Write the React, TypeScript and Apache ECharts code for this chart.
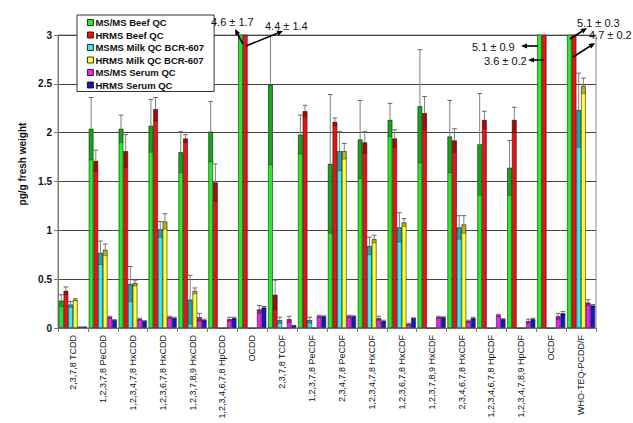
import React, { useEffect, useRef } from "react";
import * as echarts from "echarts";

const categories = [
  "2,3,7,8 TCDD",
  "1,2,3,7,8 PeCDD",
  "1,2,3,4,7,8 HxCDD",
  "1,2,3,6,7,8 HxCDD",
  "1,2,3,7,8,9 HxCDD",
  "1,2,3,4,6,7,8 HpCDD",
  "OCDD",
  "2,3,7,8 TCDF",
  "1,2,3,7,8 PeCDF",
  "2,3,4,7,8 PeCDF",
  "1,2,3,4,7,8 HxCDF",
  "1,2,3,6,7,8 HxCDF",
  "1,2,3,7,8,9 HxCDF",
  "2,3,4,6,7,8 HxCDF",
  "1,2,3,4,6,7,8 HpCDF",
  "1,2,3,4,7,8,9 HpCDF",
  "OCDF",
  "WHO-TEQ-PCDD/F",
];

const seriesNames = [
  "MS/MS Beef QC",
  "HRMS Beef QC",
  "MSMS Milk QC BCR-607",
  "HRMS Milk QC BCR-607",
  "MS/MS Serum QC",
  "HRMS Serum QC",
];

const beefMsms = [0.28, 2.04, 2.04, 2.07, 1.8, 2.01, 4.6, 2.49, 1.98, 1.68, 1.93, 2.13, 2.27, 1.96, 1.88, 1.64, 5.1, 5.1];
const beefMsmsErr = [0.06, 0.32, 0.14, 0.27, 0.21, 0.31, 1.7, 0.82, 0.2, 0.71, 0.4, 0.17, 0.58, 0.37, 0.52, 0.28, 0.9, 0.3];

const beefHrms = [0.38, 1.71, 1.81, 2.24, 1.94, 1.49, 4.4, 0.34, 2.22, 2.11, 1.9, 1.94, 2.2, 1.92, 2.13, 2.13, 3.6, 4.7];
const beefHrmsErr = [0.04, 0.11, 0.17, 0.12, 0.04, 0.19, 1.4, 0.15, 0.06, 0.04, 0.11, 0.09, 0.17, 0.12, 0.09, 0.13, 0.2, 0.2];

const milkMsms = [0.24, 0.77, 0.45, 1.01, 0.29, 0, 0, 0.08, 0.08, 1.81, 0.84, 1.03, 0, 1.03, 0, 0, 0, 2.23];
const milkMsmsErr = [0.03, 0.12, 0.18, 0.08, 0.25, 0, 0, 0.03, 0.03, 0.2, 0.09, 0.15, 0, 0.12, 0, 0, 0, 0.38];

const milkHrms = [0.29, 0.8, 0.46, 1.09, 0.38, 0, 0, 0, 0, 1.81, 0.91, 1.08, 0, 1.06, 0, 0, 0, 2.48];
const milkHrmsErr = [0.01, 0.06, 0.03, 0.08, 0.03, 0, 0, 0, 0, 0.08, 0.04, 0.04, 0, 0.09, 0, 0, 0, 0.08];

const serumMsms = [0.015, 0.11, 0.09, 0.11, 0.11, 0.09, 0.19, 0.09, 0.12, 0.12, 0.1, 0.04, 0.11, 0.07, 0.13, 0.07, 0.12, 0.26];
const serumMsmsErr = [0, 0.01, 0.01, 0.01, 0.04, 0.02, 0.04, 0.03, 0.01, 0.01, 0.02, 0.01, 0.01, 0.01, 0.01, 0.02, 0.03, 0.03];

const serumHrms = [0.015, 0.08, 0.07, 0.1, 0.08, 0.1, 0.21, 0.03, 0.12, 0.12, 0.07, 0.1, 0.11, 0.1, 0.09, 0.09, 0.15, 0.23];
const serumHrmsErr = [0, 0.005, 0.005, 0.01, 0.01, 0.01, 0.01, 0, 0.005, 0.005, 0.01, 0.005, 0.005, 0.01, 0.005, 0.01, 0.02, 0.01];

const Y_MIN = 0;
const Y_MAX = 3;
const Y_INTERVAL = 0.5;

const COLORS = ["#22ee22", "#ee1111", "#33eeee", "#ffff33", "#ee22ee", "#1515cc"];
const FONT = "'Liberation Sans', Arial, sans-serif";
const CAT_GAP = 0.06;

// off-scale annotations: [series index, category index] plus layout
const annotations = [
  { s: 0, c: 6, tx: 211, ty: 22, from: [243, 44], to: [235, 29] },
  { s: 1, c: 6, tx: 265, ty: 26, from: [246, 46], to: [283, 31] },
  { s: 0, c: 16, tx: 472, ty: 47, from: [538, 46], to: [521, 46] },
  { s: 1, c: 16, tx: 484, ty: 61, from: [544, 60], to: [528, 60] },
  { s: 0, c: 17, tx: 577, ty: 23, from: [570, 39], to: [587, 28] },
  { s: 1, c: 17, tx: 589, ty: 35, from: [573, 57], to: [595, 43] },
];

function arrowGraphics(x1: number, y1: number, x2: number, y2: number) {
  const a = Math.atan2(y2 - y1, x2 - x1);
  const L = 6;
  const W = 2.6;
  const bx = x2 - L * Math.cos(a);
  const by = y2 - L * Math.sin(a);
  const sn = Math.sin(a);
  const cs = Math.cos(a);
  return [
    {
      type: "line",
      shape: { x1, y1, x2: bx, y2: by },
      style: { stroke: "#000", lineWidth: 1.6 },
      z: 100,
    },
    {
      type: "polygon",
      shape: {
        points: [
          [x2, y2],
          [bx + W * sn, by - W * cs],
          [bx - W * sn, by + W * cs],
        ],
      },
      style: { fill: "#000" },
      z: 100,
    },
  ];
}

export default function App() {
  const ref = useRef<HTMLDivElement>(null);

  useEffect(() => {
    const chart = echarts.init(ref.current!, null, { renderer: "svg" });
    const values = [beefMsms, beefHrms, milkMsms, milkHrms, serumMsms, serumHrms];
    const errs = [beefMsmsErr, beefHrmsErr, milkMsmsErr, milkHrmsErr, serumMsmsErr, serumHrmsErr];

    const errData: number[][] = [];
    values.forEach((arr, s) =>
      arr.forEach((v, c) => {
        const e = errs[s][c];
        if (v > 0 && v <= Y_MAX && e > 0) errData.push([c, s, v, e]);
      })
    );

    const graphics: any[] = [
      {
        type: "text",
        x: 22,
        y: 164,
        rotation: Math.PI / 2,
        style: {
          text: "pg/g fresh weight",
          font: `bold 10px ${FONT}`,
          fill: "#111",
          textAlign: "center",
          textVerticalAlign: "middle",
        },
      },
    ];
    annotations.forEach((an) => {
      graphics.push({
        type: "text",
        x: an.tx,
        y: an.ty,
        style: {
          text: `${values[an.s][an.c]} ± ${errs[an.s][an.c]}`,
          font: `11px ${FONT}`,
          fill: "#111",
          textVerticalAlign: "middle",
        },
        z: 100,
      });
      graphics.push(...arrowGraphics(an.from[0], an.from[1], an.to[0], an.to[1]));
    });

    const barSeries = seriesNames.map((name, i) => ({
      name,
      type: "bar",
      data: values[i],
      barGap: "0%",
      barCategoryGap: `${CAT_GAP * 100}%`,
      clip: true,
      itemStyle: { color: COLORS[i], borderColor: "#222", borderWidth: 0.6 },
      emphasis: { disabled: true },
    }));

    const errorSeries = {
      type: "custom",
      name: "err",
      data: errData,
      encode: { x: 0, y: 2 },
      clip: true,
      z: 5,
      renderItem: (params: any, api: any) => {
        const c = api.value(0);
        const s = api.value(1);
        const v = api.value(2);
        const e = api.value(3);
        const band = api.size([1, 0])[0];
        const groupW = band * (1 - CAT_GAP);
        const barW = groupW / seriesNames.length;
        const center = api.coord([c, 0])[0];
        const x0 = center - groupW / 2 + s * barW;
        const xc = x0 + barW / 2;
        const yTop = api.coord([c, v])[1];
        const yHi = api.coord([c, Math.min(Y_MAX, v + e)])[1];
        const yLo = api.coord([c, Math.max(0, v - e)])[1];
        const children: any[] = [
          {
            type: "rect",
            shape: { x: x0 + 0.3, y: yTop, width: barW - 0.6, height: yLo - yTop },
            style: { fill: "rgba(0,0,0,0.3)" },
          },
          {
            type: "line",
            shape: { x1: x0, y1: yLo, x2: x0 + barW, y2: yLo },
            style: { stroke: "rgba(0,0,0,0.5)", lineWidth: 0.6 },
          },
          {
            type: "line",
            shape: { x1: xc, y1: yTop, x2: xc, y2: yHi },
            style: { stroke: "#808080", lineWidth: 1 },
          },
        ];
        if (v + e <= Y_MAX) {
          children.push({
            type: "line",
            shape: { x1: xc - barW / 2, y1: yHi, x2: xc + barW / 2, y2: yHi },
            style: { stroke: "#666", lineWidth: 1 },
          });
        }
        return { type: "group", children };
      },
    };

    chart.setOption({
      animation: false,
      backgroundColor: "#fff",
      textStyle: { fontFamily: FONT },
      grid: { left: 58, right: 37, top: 35, bottom: 95, show: true, borderColor: "#888", borderWidth: 1 },
      legend: {
        data: seriesNames,
        orient: "vertical",
        left: 77,
        top: 15,
        itemWidth: 6,
        itemHeight: 6,
        itemGap: 1.5,
        padding: [2, 10, 1, 10],
        backgroundColor: "#fff",
        borderColor: "#333",
        borderWidth: 1,
        borderRadius: 0,
        icon: "rect",
        itemStyle: { borderColor: "#000", borderWidth: 0.8 },
        textStyle: {
          fontFamily: FONT,
          fontWeight: "bold",
          fontSize: 9.5,
          lineHeight: 11,
          color: "#111",
          padding: [0, 0, 0, -3],
        },
        selectedMode: false,
        z: 10,
      },
      xAxis: {
        type: "category",
        data: categories,
        axisLine: { lineStyle: { color: "#777", width: 1 } },
        axisTick: { show: true, length: 4, lineStyle: { color: "#777" } },
        axisLabel: {
          rotate: 90,
          interval: 0,
          fontSize: 9,
          margin: 7,
          color: "#111",
          fontFamily: FONT,
        },
      },
      yAxis: {
        type: "value",
        min: Y_MIN,
        max: Y_MAX,
        interval: Y_INTERVAL,
        axisLine: { show: true, lineStyle: { color: "#777", width: 1 } },
        axisTick: { show: true, length: 4, lineStyle: { color: "#777" } },
        axisLabel: { fontSize: 10, fontWeight: "bold", color: "#111", margin: 6, fontFamily: FONT },
        splitLine: { show: true, lineStyle: { color: "#444", width: 1 } },
      },
      series: [...barSeries, errorSeries],
      graphic: graphics,
    });

    return () => chart.dispose();
  }, []);

  return (
    <div
      ref={ref}
      style={{ position: "fixed", left: 0, top: 0, width: 633, height: 423, background: "#fff" }}
    />
  );
}
